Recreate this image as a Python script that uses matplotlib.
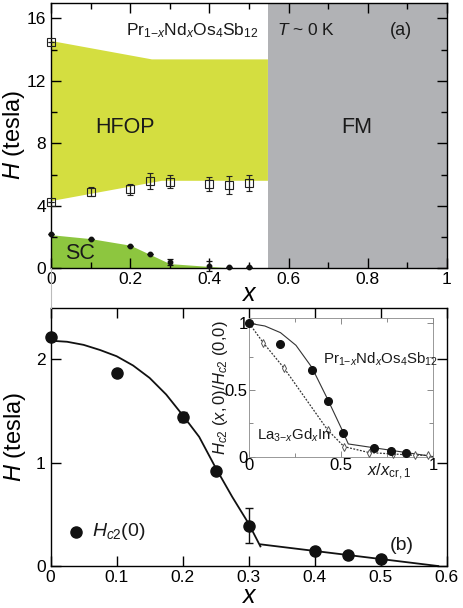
import numpy as np
import matplotlib
matplotlib.use("Agg")
import matplotlib.pyplot as plt
from matplotlib.ticker import MultipleLocator
from matplotlib.lines import Line2D

plt.rcParams['font.family'] = ['Liberation Sans', 'DejaVu Sans']
plt.rcParams['mathtext.fontset'] = 'custom'
plt.rcParams['mathtext.rm'] = 'Liberation Sans'
plt.rcParams['mathtext.it'] = 'Liberation Sans:italic'
plt.rcParams['mathtext.bf'] = 'Liberation Sans:bold'

# ----------------------------------------------------------------------
# Data
# ----------------------------------------------------------------------
# (a) phase diagram regions
hfop_top_x = [0.0, 0.255, 0.548]
hfop_top_h = [14.55, 13.37, 13.37]
hfop_bot_x = [0.548, 0.28, 0.0]
hfop_bot_h = [5.6, 5.6, 4.3]
fm_x = [0.548, 1.0]
sc_x = [0.0, 0.1, 0.2, 0.3, 0.4, 0.47]
sc_h = [2.15, 1.9, 1.48, 0.3, 0.12, 0.0]

# open squares (HFOP onset)
sq_x = [0.0, 0.0, 0.1, 0.2, 0.25, 0.3, 0.4, 0.45, 0.5]
sq_h = [14.5, 4.27, 4.9, 5.05, 5.6, 5.55, 5.4, 5.33, 5.44]
sq_err = [0, 0, 0.3, 0.36, 0.5, 0.4, 0.45, 0.58, 0.5]

# Hc2(0) vs x
x_nd = [0.0, 0.1, 0.2, 0.25, 0.3, 0.4, 0.45, 0.5]
hc2 = [2.22, 1.87, 1.445, 0.92, 0.39, 0.145, 0.106, 0.068]
hc2_err = [0, 0, 0.05, 0, 0.17, 0, 0, 0]
hc2_err_a = [0, 0, 0, 0, 0.2, 0.3, 0, 0]

# guide line in (b)
fit_x = [0.0, 0.025, 0.05, 0.075, 0.1, 0.125, 0.15, 0.175, 0.2, 0.225, 0.25, 0.275, 0.3, 0.3177]
fit_h = [2.18, 2.17, 2.14, 2.09, 2.03, 1.94, 1.82, 1.66, 1.46, 1.25, 0.95, 0.67, 0.41, 0.19]
tail_x = [0.318, 0.587]
tail_h = [0.21, 0.0]

# inset: normalised
pr_x = [0.0, 0.167, 0.339, 0.426, 0.511, 0.68, 0.768, 0.852]
pr_h = [1.0, 0.845, 0.652, 0.417, 0.175, 0.063, 0.045, 0.025]
pr_fit_x = [0.0, 0.085, 0.17, 0.254, 0.34, 0.424, 0.508, 0.538, 1.0]
pr_fit_h = [1.0, 0.98, 0.93, 0.835, 0.67, 0.436, 0.19, 0.095, 0.0]
la_x = [0.0, 0.076, 0.19, 0.426, 0.515, 0.652, 0.78, 0.9, 0.97]
la_h = [1.0, 0.855, 0.663, 0.2, 0.075, 0.03, 0.02, 0.01, 0.01]

C_HFOP = '#d4de40'
C_SC = '#8dc63f'
C_FM = '#b1b2b5'
INK = '#1a1a1a'

TICK = 12.5

fig = plt.figure(figsize=(4.64, 6.08), dpi=100)


def style_ticks(ax, size=TICK):
    ax.tick_params(which='both', direction='in', top=True, right=True, labelsize=size, width=1.0)
    ax.tick_params(which='major', length=7)
    ax.tick_params(which='minor', length=4)
    for s in ax.spines.values():
        s.set_linewidth(1.0)


# ----------------------------------------------------------------------
# (a)
# ----------------------------------------------------------------------
ax1 = fig.add_axes([0.110, 0.5587, 0.853, 0.4369])
ax1.fill(hfop_top_x + hfop_bot_x, hfop_top_h + hfop_bot_h, color=C_HFOP, lw=0, zorder=1)
ax1.fill_between(sc_x, 0, sc_h, color=C_SC, lw=0, zorder=1)
ax1.axvspan(fm_x[0], fm_x[1], color=C_FM, lw=0, zorder=1)
ax1.errorbar(sq_x, sq_h, yerr=sq_err, fmt='s', ms=5.5, mfc='none', mec='#222222',
             mew=0.8, ecolor='#222222', elinewidth=0.9, capsize=2.5, capthick=0.9,
             zorder=3, clip_on=False)
ax1.errorbar(x_nd, hc2, yerr=hc2_err_a, fmt='o', ms=3.2, color='#111111',
             elinewidth=0.9, capsize=2, capthick=0.9, zorder=3, clip_on=False)
ax1.set_xlim(0, 1)
ax1.set_ylim(0, 17)
ax1.set_xticks([0, 0.2, 0.4, 0.6, 0.8, 1.0])
ax1.set_xticklabels(['0', '0.2', '0.4', '0.6', '0.8', '1'])
ax1.xaxis.set_minor_locator(MultipleLocator(0.1))
ax1.yaxis.set_major_locator(MultipleLocator(4))
ax1.yaxis.set_minor_locator(MultipleLocator(2))
style_ticks(ax1)
ax1.tick_params(axis='x', pad=3)
ax1.set_ylabel(r'$H$ (tesla)', fontsize=17, labelpad=0)
ax1.set_xlabel(r'$x$', fontsize=18, labelpad=-4)
ax1.text(0.19, 14.9, r'Pr$_{1\mathrm{-}x}$Nd$_x$Os$_4$Sb$_{12}$', fontsize=12.5, va='baseline', color=INK)
ax1.text(0.57, 14.9, r'$T$ ~ 0 K', fontsize=12.5, va='baseline', color=INK)
ax1.text(0.857, 14.9, '(a)', fontsize=13, va='baseline', color=INK)
ax1.text(0.187, 9.0, 'HFOP', fontsize=15.5, ha='center', va='center', color=INK)
ax1.text(0.773, 9.0, 'FM', fontsize=15.5, ha='center', va='center', color=INK)
ax1.text(0.074, 0.95, 'SC', fontsize=15.5, ha='center', va='center', color=INK)

# faint connector between the two panels at x = 0
fig.add_artist(Line2D([0.110, 0.110], [0.494, 0.5587], color='#bbbbbb', lw=0.8))

# ----------------------------------------------------------------------
# (b)
# ----------------------------------------------------------------------
ax2 = fig.add_axes([0.109, 0.069, 0.854, 0.425])
ax2.plot(fit_x, fit_h, color='#111111', lw=1.3, zorder=2)
ax2.plot(tail_x, tail_h, color='#111111', lw=1.3, zorder=2)
ax2.errorbar(x_nd, hc2, yerr=hc2_err, fmt='o', ms=8, color='#111111',
             elinewidth=1.0, capsize=3, capthick=1.0, zorder=3, clip_on=False)
ax2.set_xlim(0, 0.6)
ax2.set_ylim(0, 2.5)
ax2.set_xticks([0, 0.1, 0.2, 0.3, 0.4, 0.5, 0.6])
ax2.set_xticklabels(['0', '0.1', '0.2', '0.3', '0.4', '0.5', '0.6'])
ax2.set_yticks([0, 1, 2])
ax2.set_yticklabels(['0', '1', '2'])
style_ticks(ax2)
ax2.tick_params(axis='x', pad=3)
ax2.set_ylabel(r'$H$ (tesla)', fontsize=17, labelpad=6)
ax2.set_xlabel(r'$x$', fontsize=18, labelpad=-1)
ax2.plot([0.0385], [0.33], 'o', ms=8, color='#111111')
ax2.text(0.062, 0.33, r'$H_{c2}$(0)', fontsize=14, va='center', color=INK)
ax2.text(0.532, 0.2, '(b)', fontsize=14, ha='center', va='center', color=INK)

# ----------------------------------------------------------------------
# inset
# ----------------------------------------------------------------------
ax3 = fig.add_axes([0.537, 0.249, 0.397, 0.228])
ax3.plot(pr_fit_x, pr_fit_h, color='#333333', lw=0.8, zorder=2)
ax3.plot(la_x, la_h, ls=(0, (1.5, 1.2)), color='#333333', lw=0.9, zorder=2)
ax3.plot(la_x, la_h, 'd', ms=4, mfc='white', mec='#555555', mew=0.7, zorder=3, clip_on=False)
ax3.plot(pr_x, pr_h, 'o', ms=5.5, color='#111111', zorder=3, clip_on=False)
ax3.set_xlim(0, 1)
ax3.set_ylim(0, 1.04)
ax3.set_xticks([0, 0.5, 1])
ax3.set_xticklabels(['0', '0.5', '1'])
ax3.set_yticks([0, 0.5, 1])
ax3.set_yticklabels(['0', '0.5', '1'])
ax3.xaxis.set_minor_locator(MultipleLocator(0.25))
ax3.yaxis.set_minor_locator(MultipleLocator(0.25))
ax3.tick_params(which='both', direction='in', top=True, right=True, labelsize=12,
                width=0.6, color='#777777', pad=1)
ax3.tick_params(which='major', length=4)
ax3.tick_params(which='minor', length=3)
for s in ax3.spines.values():
    s.set_linewidth(0.6)
    s.set_color('#888888')
ax3.set_ylabel(r'$H_{c2}$ $(x,$0$)/H_{c2}$ (0,0)', fontsize=12, labelpad=-4, color=INK)
ax3.text(0.64, -0.035, r'$x/x_{\mathrm{cr,1}}$', fontsize=12, va='top', clip_on=False, color=INK)
ax3.text(0.4, 0.7, r'Pr$_{1\mathrm{-}x}$Nd$_x$Os$_4$Sb$_{12}$', fontsize=10.8, va='baseline', color=INK)
ax3.text(0.04, 0.125, r'La$_{3\mathrm{-}x}$Gd$_x$In', fontsize=10.8, va='baseline', color=INK)

fig.savefig('out.png', dpi=100)
